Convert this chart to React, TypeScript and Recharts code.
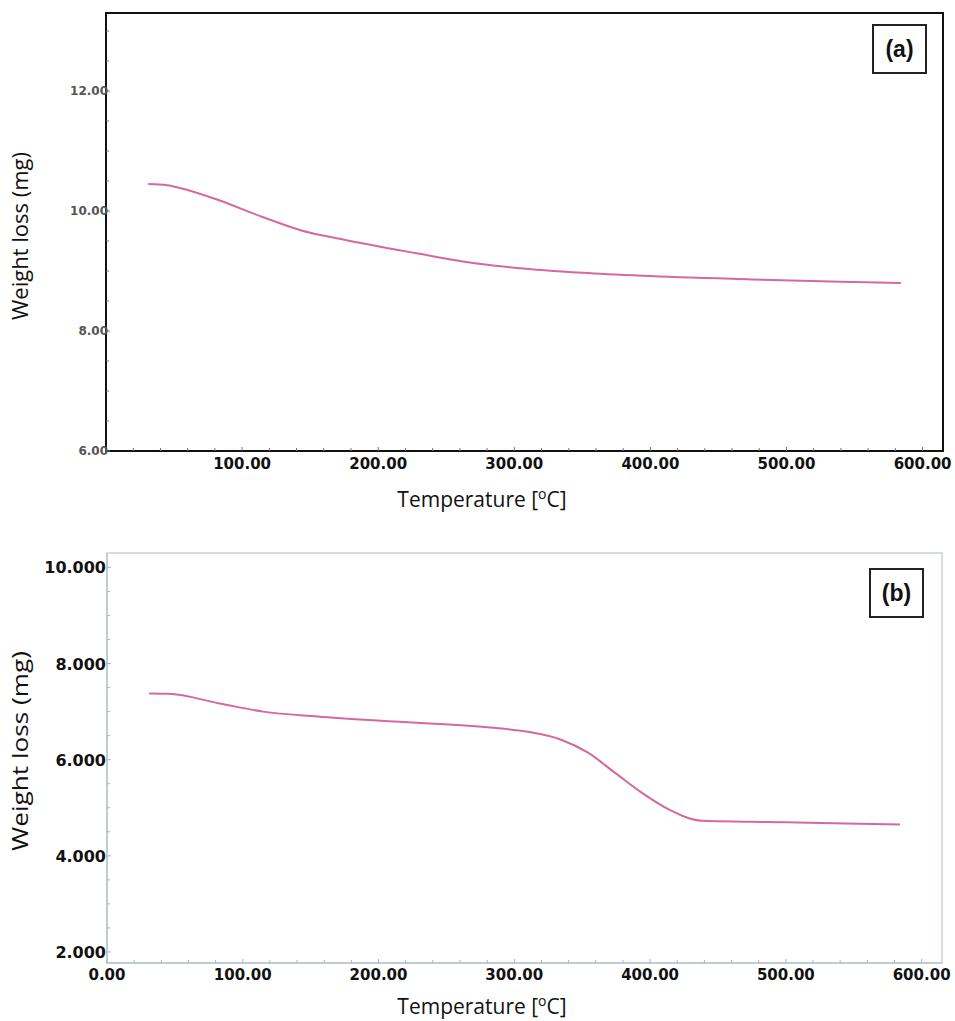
import { LineChart, Line, XAxis, YAxis, ReferenceArea, Label } from 'recharts';

// (a) sample
const tempA = [31, 45, 55, 83, 115, 143, 175, 227, 274, 302, 350, 394, 474, 540, 584];
const weightA = [10.45, 10.43, 10.38, 10.18, 9.9, 9.68, 9.52, 9.3, 9.12, 9.05, 8.97, 8.92, 8.86, 8.82, 8.8];

// (b) sample
const tempB = [31, 45, 83, 115, 155, 215, 282, 310, 334, 354, 374, 394, 414, 438, 474, 534, 584];
const weightB = [7.375, 7.37, 7.17, 7.0, 6.9, 6.79, 6.67, 6.58, 6.42, 6.15, 5.73, 5.31, 4.96, 4.73, 4.71, 4.68, 4.65];

const xMajor = [0, 100, 200, 300, 400, 500, 600];
const yMajorA = [6, 8, 10, 12];
const yMajorB = [2, 4, 6, 8, 10];

const xTicks: number[] = [];
for (let t = 0; t <= 600; t += 20) xTicks.push(t);
const yTicksA: number[] = [];
for (let v = 6; v <= 13; v += 0.5) yTicksA.push(v);
const yTicksB: number[] = [];
for (let v = 2; v <= 10; v += 0.5) yTicksB.push(v);

const rowsA = tempA.map((t, i) => ({ t, w: weightA[i] }));
const rowsB = tempB.map((t, i) => ({ t, w: weightB[i] }));

const LINE = '#d4699f';
const TITLE_FONT = '"Open Sans", sans-serif';
const TICK_FONT = '"DejaVu Sans", sans-serif';

function XTick({ x, y, payload, showZero, color, dy }: any) {
  const v = payload.value;
  const major = xMajor.includes(v);
  return (
    <g>
      <line x1={x} y1={y} x2={x} y2={y - (major ? 4 : 3)} stroke={color} strokeWidth={1} />
      {major && (showZero || v !== 0) && (
        <text x={x} y={y + dy} textAnchor="middle" fontFamily={TICK_FONT} fontWeight="bold" fontSize={15} fill="#111">
          {v.toFixed(2)}
        </text>
      )}
    </g>
  );
}

function YTick({ x, y, payload, majors, digits, size, fill, color, dx, dy }: any) {
  const v = payload.value;
  const major = majors.includes(v);
  return (
    <g>
      <line x1={x} y1={y} x2={x + (major ? 4 : 3)} y2={y} stroke={color} strokeWidth={1} />
      {major && (
        <text x={x + dx} y={y + dy} textAnchor="end" fontFamily={TICK_FONT} fontWeight="bold" fontSize={size} fill={fill}>
          {v.toFixed(digits)}
        </text>
      )}
    </g>
  );
}

function TempTitle({ y }: { y: number }) {
  return (
    <text x={482} y={y} textAnchor="middle" fontFamily={TITLE_FONT} fontSize={21} fill="#111">
      <tspan>Temperature [</tspan>
      <tspan dy={-8} fontSize={14}>o</tspan>
      <tspan dy={8}>C]</tspan>
    </text>
  );
}

function WeightTitle({ cy, len }: { cy: number; len: number }) {
  return (
    <text
      x={20}
      y={cy}
      transform={`rotate(-90, 20, ${cy})`}
      textAnchor="middle"
      dominantBaseline="central"
      fontFamily={TITLE_FONT}
      fontSize={21}
      fill="#111"
      textLength={len}
      lengthAdjust="spacingAndGlyphs"
    >
      Weight loss (mg)
    </text>
  );
}

const boxStyle = {
  position: 'absolute' as const,
  width: 55,
  height: 50,
  boxSizing: 'border-box' as const,
  border: '2px solid #222',
  background: '#fff',
  display: 'flex',
  alignItems: 'center',
  justifyContent: 'center',
  fontFamily: '"Liberation Sans", Arial, sans-serif',
  fontWeight: 'bold' as const,
  fontSize: 23,
  color: '#111',
};

export default function App() {
  return (
    <div style={{ position: 'absolute', left: 0, top: 0, width: 955, height: 1021, background: '#fff', overflow: 'hidden' }}>
      <div style={{ position: 'absolute', left: 0, top: 0 }}>
        <LineChart width={955} height={530} data={rowsA} margin={{ top: 13, right: 12, left: 46, bottom: 49 }}>
          <XAxis
            type="number"
            dataKey="t"
            domain={[0, 615]}
            allowDataOverflow
            ticks={xTicks}
            interval={0}
            height={30}
            tickSize={0}
            tickMargin={0}
            axisLine={{ stroke: '#111', strokeWidth: 2 }}
            tickLine={false}
            tick={(p: any) => <XTick {...p} showZero={false} color="#777" dy={17.5} />}
          >
            <Label content={() => <TempTitle y={507} />} />
          </XAxis>
          <YAxis
            type="number"
            domain={[6, 13.3]}
            allowDataOverflow
            ticks={yTicksA}
            interval={0}
            width={60}
            tickSize={0}
            tickMargin={0}
            axisLine={{ stroke: '#111', strokeWidth: 2 }}
            tickLine={false}
            tick={(p: any) => (
              <YTick {...p} majors={yMajorA} digits={2} size={12} fill="#555" color="#777" dx={2} dy={4} />
            )}
          >
            <Label content={() => <WeightTitle cy={236} len={168} />} />
          </YAxis>
          <ReferenceArea x1={0} x2={615} y1={6} y2={13.3} fill="none" stroke="#111" strokeWidth={2} />
          <Line type="monotone" dataKey="w" stroke={LINE} strokeWidth={2} dot={false} isAnimationActive={false} />
        </LineChart>
      </div>
      <div style={{ ...boxStyle, left: 872, top: 24 }}>(a)</div>

      <div style={{ position: 'absolute', left: 0, top: 540 }}>
        <LineChart width={955} height={481} data={rowsB} margin={{ top: 13, right: 13, left: 47, bottom: 28 }}>
          <XAxis
            type="number"
            dataKey="t"
            domain={[0, 615]}
            allowDataOverflow
            ticks={xTicks}
            interval={0}
            height={30}
            tickSize={0}
            tickMargin={0}
            axisLine={{ stroke: '#b9c6cf', strokeWidth: 1.5 }}
            tickLine={false}
            tick={(p: any) => <XTick {...p} showZero color="#a8b4bc" dy={16.5} />}
          >
            <Label content={() => <TempTitle y={474} />} />
          </XAxis>
          <YAxis
            type="number"
            domain={[1.77, 10.3]}
            allowDataOverflow
            ticks={yTicksB}
            interval={0}
            width={60}
            tickSize={0}
            tickMargin={0}
            axisLine={{ stroke: '#b9c6cf', strokeWidth: 1.5 }}
            tickLine={false}
            tick={(p: any) => (
              <YTick {...p} majors={yMajorB} digits={3} size={16} fill="#111" color="#a8b4bc" dx={-1} dy={6} />
            )}
          >
            <Label content={() => <WeightTitle cy={211} len={200} />} />
          </YAxis>
          <ReferenceArea x1={0} x2={615} y1={1.77} y2={10.3} fill="none" stroke="#c9d2d8" strokeWidth={1.5} />
          <Line type="monotone" dataKey="w" stroke={LINE} strokeWidth={2} dot={false} isAnimationActive={false} />
        </LineChart>
      </div>
      <div style={{ ...boxStyle, left: 869, top: 568 }}>(b)</div>
    </div>
  );
}
